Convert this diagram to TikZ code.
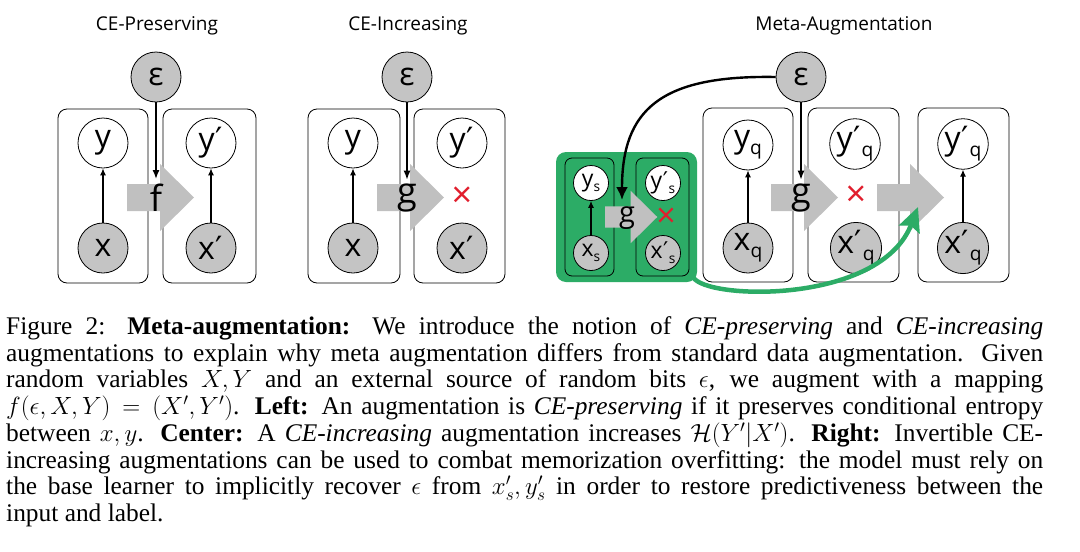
\documentclass[tikz,border=0pt]{standalone}
\usepackage{graphicx}
\usepackage{fontspec}
\setmainfont{Liberation Serif}
\newfontfamily\dfont{Open Sans}
\newfontfamily\pfont{DejaVu Sans}
\usetikzlibrary{arrows.meta}
\definecolor{cgray}{RGB}{196,196,196}
\definecolor{agray}{RGB}{192,192,192}
\definecolor{mgreen}{RGB}{44,172,102}
\definecolor{xred}{RGB}{225,30,45}
\newcommand\mysub[1]{\raisebox{-0.22em}{\scalebox{0.6}{#1}}}
\newcommand\pr{{\pfont\kern0.02em ′\kern0.03em}}
\newcommand\capline[1]{\hbox to \hsize{#1}}
\begin{document}
\begin{tikzpicture}[x=1pt,y=-1pt,
  plate/.style={draw, line width=0.8pt, rounded corners=9pt, inner sep=0pt, minimum width=91pt, minimum height=174pt},
  obs/.style={circle, draw, line width=0.8pt, fill=cgray, minimum size=50pt, inner sep=0pt, font=\dfont\fontsize{32}{32}\selectfont},
  lat/.style={obs, fill=white},
  sobs/.style={obs, minimum size=35pt, font=\dfont\fontsize{23}{23}\selectfont},
  slat/.style={sobs, fill=white},
  title/.style={font=\dfont\fontsize{19}{24}\selectfont, inner sep=0pt},
  fn/.style={font=\dfont\fontsize{36}{36}\selectfont, inner sep=0pt},
  sfn/.style={font=\dfont\fontsize{29}{29}\selectfont, inner sep=0pt},
  cross/.style={text=xred, font=\dfont\fontsize{36}{36}\selectfont, inner sep=0pt},
  edge/.style={-{Latex[length=7pt,width=6pt]}, line width=1.1pt},
  epsedge/.style={-{Latex[length=9pt,width=7pt]}, line width=1.5pt},
  garrow/.pic={\fill[agray] (0,-13.5)--(33,-13.5)--(33,-33.5)--(67,0)--(33,33.5)--(33,13.5)--(0,13.5)--cycle;}
]
\fill[white] (0,0) rectangle (1080,552);
\useasboundingbox (0,0) rectangle (1080,552);

% ---------- Left panel: CE-Preserving
\node[title] (t1) at (157,26) {CE-Preserving};
\node[obs] (e1) at (156,77) {ε};
\node[plate, minimum width=90pt] (pl1) at (103,196) {};
\node[plate, minimum width=93pt] (pr1) at (209.5,196) {};
\node[lat] (y1) at (103,143) {y};
\node[obs] (x1) at (103,248) {x};
\node[lat] (yp1) at (211,143) {y\pr};
\node[obs] (xp1) at (211,248) {x\pr};
\draw[edge] (x1) -- (y1);
\draw[edge] (xp1) -- (yp1);
\pic at (127,197.5) {garrow};
\node[fn] (f1) at (156,198) {f};
\draw[epsedge] (e1) -- ([yshift=5pt]f1.north);

% ---------- Middle panel: CE-Increasing
\node[title] (t2) at (408,26) {CE-Increasing};
\node[obs] (e2) at (407,77) {ε};
\node[plate, minimum width=92pt] (pl2) at (354,196) {};
\node[plate, minimum width=91pt] (pr2) at (459.5,196) {};
\node[lat] (y2) at (353,143) {y};
\node[obs] (x2) at (353,248) {x};
\node[lat] (yp2) at (462,143) {y\pr};
\node[obs] (xp2) at (462,248) {x\pr};
\draw[edge] (x2) -- (y2);
\pic at (377,197.5) {garrow};
\node[fn] (g2) at (407,198) {g};
\draw[epsedge] (e2) -- ([yshift=4pt]g2.north);
\node[cross] (c2) at (462,197) {×};

% ---------- Right panel: Meta-Augmentation
\node[title] (t3) at (844,26) {Meta-Augmentation};
\node[obs] (e3) at (801,77) {ε};

% green support box
\node[fill=mgreen, rounded corners=10pt, inner sep=0pt, minimum width=141pt, minimum height=130pt] (S) at (626.5,217) {};
\node[plate, rounded corners=7pt, minimum width=49pt, minimum height=118pt] (spl) at (589.5,217) {};
\node[plate, rounded corners=7pt, minimum width=53pt, minimum height=118pt] (spr) at (662.5,217) {};
\node[slat] (ys) at (591,183) {y\mysub{s}};
\node[sobs] (xs) at (591,253) {x\mysub{s}};
\node[slat] (yps) at (663,183) {y\pr\mysub{s}};
\node[sobs] (xps) at (663,253) {x\pr\mysub{s}};
\draw[edge] (xs) -- (ys);
\pic[scale=0.78] at (605,217) {garrow};
\node[sfn] (gs) at (627,218) {g};
\node[cross, font=\dfont\fontsize{34}{34}\selectfont] (cs) at (666,218) {×};

% query boxes
\node[plate, minimum width=90pt] (pq1) at (748,195) {};
\node[plate, minimum width=91pt] (pq2) at (853.5,195) {};
\node[plate, minimum width=91pt] (pq3) at (963.5,195) {};
\node[lat] (yq) at (748,145) {y\mysub{q}};
\node[obs] (xq) at (748,248) {x\mysub{q}};
\node[lat] (ypq) at (855,144) {y\pr\mysub{q}};
\node[obs] (xpq) at (856,248) {x\pr\mysub{q}};
\node[lat] (ypq3) at (963,144) {y\pr\mysub{q}};
\node[obs] (xpq3) at (963,248) {x\pr\mysub{q}};
\draw[edge] (xq) -- (yq);
\draw[edge] (xpq3) -- (ypq3);
\pic at (771,197.5) {garrow};
\node[fn] (g3) at (801,198) {g};
\draw[epsedge] (e3) -- ([yshift=4pt]g3.north);
\node[cross] (c3) at (856,196) {×};
\pic at (877,197.5) {garrow};
\coordinate (tipS) at (622,200);
\coordinate (tipQ) at (918,207);
\coordinate (startG) at (693,277);

% curved connectors
\draw[line width=2.4pt, -{Latex[length=13pt,width=12pt]}] (e3.west) .. controls (660,75) and (622,110) .. (tipS);
\draw[mgreen, line width=4.5pt, -{Stealth[length=24pt,width=22pt,inset=4pt]}] (startG) .. controls (705,300) and (880,305) .. (tipQ);

% ---------- Caption
\node[anchor=north west, inner sep=0pt] (caption) at (6,316.5) {\vbox{\hsize=1037pt
\fontsize{25.4}{26.7}\selectfont\parindent=0pt
\capline{Figure 2: \textbf{Meta-augmentation:} We introduce the notion of \textit{CE-preserving} and \textit{CE-increasing}}
\capline{augmentations to explain why meta augmentation differs from standard data augmentation. Given}
\capline{random variables $X,Y$ and an external source of random bits $\epsilon$, we augment with a mapping}
\capline{$f(\epsilon,X,Y)=(X',Y')$. \textbf{Left:} An augmentation is \textit{CE-preserving} if it preserves conditional entropy}
\capline{between $x,y$. \textbf{Center:} A \textit{CE-increasing} augmentation increases $\mathcal{H}(Y'|X')$. \textbf{Right:} Invertible CE-}
\capline{increasing augmentations can be used to combat memorization overfitting: the model must rely on}
\capline{the base learner to implicitly recover $\epsilon$ from $x'_s,y'_s$ in order to restore predictiveness between the}
\hbox{input and label.}
}};
\end{tikzpicture}
\end{document}
